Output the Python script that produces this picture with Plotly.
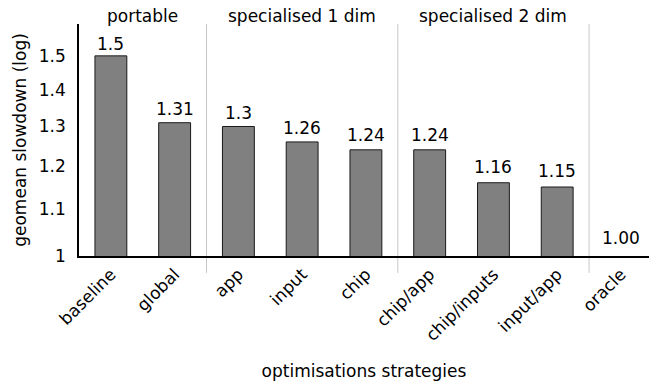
import math
import plotly.graph_objects as go

# Geomean slowdown for each optimisation strategy
strategies = ["baseline", "global", "app", "input", "chip",
              "chip/app", "chip/inputs", "input/app", "oracle"]
slowdown = [1.50, 1.31, 1.30, 1.26, 1.24, 1.24, 1.16, 1.15, 1.00]
value_labels = ["1.5", "1.31", "1.3", "1.26", "1.24", "1.24", "1.16", "1.15", "1.00"]

# Strategy groups: name, centre index
groups = [("portable", 0.5), ("specialised 1 dim", 3), ("specialised 2 dim", 6)]
separators = [1.5, 4.5, 7.5]

y_ticks = [1.0, 1.1, 1.2, 1.3, 1.4, 1.5]
y_tick_text = ["1", "1.1", "1.2", "1.3", "1.4", "1.5"]

FONT = "DejaVu Sans"
FS = 17
LABEL_OFFSET = 0.037  # data-space gap between bar top and label centre
x = list(range(len(strategies)))

fig = go.Figure()
fig.add_trace(go.Bar(
    x=x, y=slowdown, width=0.5,
    marker=dict(color="#808080",
                line=dict(color="#1a1a1a",
                          width=[1 if v > 1 else 0 for v in slowdown])),
    showlegend=False, hoverinfo="skip",
))

# value labels above bars
for xi, v, t in zip(x, slowdown, value_labels):
    fig.add_annotation(x=xi, y=math.log10(v + LABEL_OFFSET), text=t,
                       showarrow=False, xref="x", yref="y", yanchor="middle",
                       font=dict(family=FONT, size=FS, color="black"))

# group titles
for name, cx in groups:
    fig.add_annotation(x=cx, y=1.0, text=name, showarrow=False,
                       xref="x", yref="paper", yanchor="bottom", yshift=-4,
                       font=dict(family=FONT, size=FS, color="black"))

# group separators
for sx in separators:
    fig.add_shape(type="line", x0=sx, x1=sx, y0=-0.073, y1=1.0,
                  xref="x", yref="paper",
                  line=dict(color="#c8c8c8", width=1), layer="below")

fig.update_layout(
    width=649, height=381,
    margin=dict(l=79, r=0, t=24, b=125),
    paper_bgcolor="white", plot_bgcolor="white",
    font=dict(family=FONT, size=FS, color="black"),
)
fig.update_xaxes(
    range=[-0.5, 8.44], tickmode="array", tickvals=x, ticktext=strategies,
    tickangle=-45, showline=True, linecolor="black", linewidth=1.5,
    showgrid=False, zeroline=False, ticks="",
    title=dict(text="optimisations strategies", standoff=22,
               font=dict(family=FONT, size=FS)),
    tickfont=dict(family=FONT, size=FS),
)
fig.update_yaxes(
    type="log", range=[0, math.log10(1.6)],
    tickmode="array", tickvals=y_ticks, ticktext=y_tick_text,
    showline=True, linecolor="black", linewidth=1.5,
    showgrid=False, zeroline=False, ticks="", ticklabelstandoff=8,
    title=dict(text="geomean slowdown (log)", standoff=8,
               font=dict(family=FONT, size=FS)),
    tickfont=dict(family=FONT, size=FS),
)

fig.write_html("out.html")
